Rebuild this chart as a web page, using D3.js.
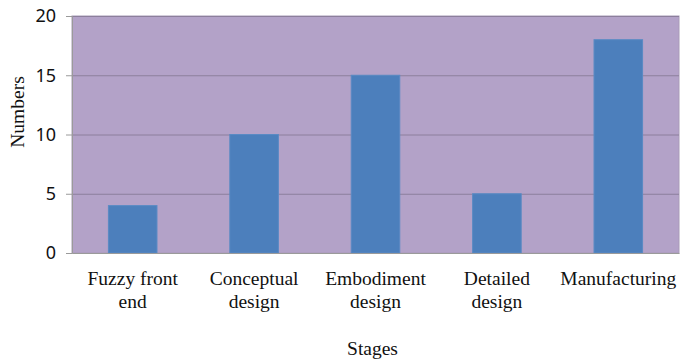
<!DOCTYPE html>
<html>
<head>
<meta charset="utf-8">
<script src="https://cdn.jsdelivr.net/npm/d3@7"></script>
<style>
  html, body { margin: 0; padding: 0; background: #ffffff; }
  svg { display: block; }
  .tick-label { font-family: "Noto Sans", "Liberation Sans", sans-serif; font-size: 18px; fill: #111111; }
  .cat-label, .axis-title { font-family: "Liberation Serif", "DejaVu Serif", serif; font-size: 19.5px; fill: #111111; }
</style>
</head>
<body>
<div id="chart"></div>
<script>
const stages = [
  ["Fuzzy front", "end"],
  ["Conceptual", "design"],
  ["Embodiment", "design"],
  ["Detailed", "design"],
  ["Manufacturing"]
];
const numbers = [4, 10, 15, 5, 18];
const yTicks = [0, 5, 10, 15, 20];

const WIDTH = 685;
const HEIGHT = 363;
const MARGIN = { top: 16, right: 6, bottom: 110, left: 72 };

const svg = d3.select("#chart")
  .append("svg")
  .attr("width", WIDTH)
  .attr("height", HEIGHT);

const innerW = WIDTH - MARGIN.left - MARGIN.right;
const innerH = HEIGHT - MARGIN.top - MARGIN.bottom;

const g = svg.append("g")
  .attr("transform", `translate(${MARGIN.left},${MARGIN.top})`);

const keys = stages.map((d) => d.join(" "));

const x = d3.scaleBand()
  .domain(keys)
  .range([0, innerW])
  .paddingInner(0.6)
  .paddingOuter(0.3);

const y = d3.scaleLinear().domain([0, 20]).range([innerH, 0]);

// plot background
g.append("rect")
  .attr("width", innerW)
  .attr("height", innerH)
  .attr("fill", "#b3a2c8")
  .attr("stroke", "#a89bb8")
  .attr("stroke-width", 1);

// gridlines
g.selectAll(".grid")
  .data(yTicks.filter((t) => t > 0))
  .join("line")
  .attr("x1", 0)
  .attr("x2", innerW)
  .attr("y1", (d) => y(d) + 0.5)
  .attr("y2", (d) => y(d) + 0.5)
  .attr("stroke", "#8c7f9c")
  .attr("stroke-width", 1);

// bars
g.selectAll(".bar")
  .data(numbers)
  .join("rect")
  .attr("class", "bar")
  .attr("x", (d, i) => x(keys[i]))
  .attr("y", (d) => y(d))
  .attr("width", x.bandwidth())
  .attr("height", (d) => innerH - y(d))
  .attr("fill", "#4c7fbc")
  .attr("stroke", "#5a8ac4")
  .attr("stroke-width", 1);

// y axis
const yAxis = g.append("g")
  .call(d3.axisLeft(y).tickValues(yTicks).tickSize(6).tickPadding(10).tickFormat(d3.format("d")));
yAxis.select(".domain").attr("stroke", "#9a9a9a");
yAxis.selectAll(".tick line").attr("stroke", "#9a9a9a");
yAxis.selectAll(".tick text").attr("class", "tick-label").attr("fill", null);

// x axis line
const xAxis = g.append("g")
  .attr("transform", `translate(0,${innerH})`)
  .call(d3.axisBottom(x).tickSize(0).tickFormat(""));
xAxis.select(".domain").attr("stroke", "#9a9a9a");

// category labels (two lines)
const labels = g.selectAll(".cat-label")
  .data(stages)
  .join("text")
  .attr("class", "cat-label")
  .attr("text-anchor", "middle")
  .attr("transform", (d, i) => `translate(${x(keys[i]) + x.bandwidth() / 2},${innerH + 32})`);

labels.selectAll("tspan")
  .data((d) => d)
  .join("tspan")
  .attr("x", 0)
  .attr("dy", (d, i) => (i === 0 ? 0 : 23))
  .text((d) => d);

// axis titles
svg.append("text")
  .attr("class", "axis-title")
  .attr("text-anchor", "middle")
  .attr("x", MARGIN.left + innerW / 2 - 3)
  .attr("y", 355)
  .text("Stages");

svg.append("text")
  .attr("class", "axis-title")
  .attr("text-anchor", "middle")
  .attr("transform", `translate(24,${MARGIN.top + 96}) rotate(-90)`)
  .text("Numbers");
</script>
</body>
</html>
